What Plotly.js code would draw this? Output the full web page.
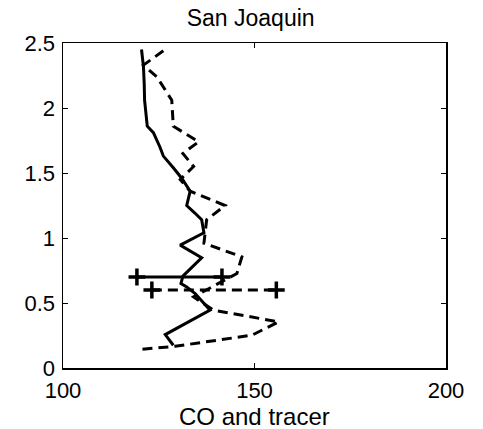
<!DOCTYPE html>
<html>
<head>
<meta charset="utf-8">
<script src="https://cdn.plot.ly/plotly-3.0.1.min.js"></script>
<style>html,body{margin:0;padding:0;background:#fff;}#chart{width:483px;height:429px;}</style>
</head>
<body>
<div id="chart"></div>
<script>
// CO profile (solid)
const solidX = [120.5, 121.0, 121.2, 121.3, 122.0, 123.6, 125.3, 126.2, 128.8, 131.0, 133.2, 132.3, 134.5, 136.2, 136.8, 130.6, 136.2, 133.0, 131.3, 130.8, 132.3, 134.5, 138.4, 126.7, 128.8];
const solidY = [2.45, 2.32, 2.19, 2.06, 1.86, 1.81, 1.70, 1.63, 1.54, 1.46, 1.36, 1.25, 1.19, 1.14, 1.04, 0.945, 0.848, 0.753, 0.707, 0.65, 0.624, 0.573, 0.445, 0.257, 0.175];
// tracer profile (dashed)
const dashX = [126.2, 121.0, 124.5, 128.4, 128.8, 135.4, 131.3, 134.1, 130.6, 133.2, 142.3, 137.5, 136.8, 146.7, 145.4, 138.9, 134.1, 139.3, 156.3, 149.3, 137.5, 129.3, 120.6];
const dashY = [2.44, 2.33, 2.24, 2.06, 1.86, 1.74, 1.65, 1.55, 1.45, 1.36, 1.25, 1.14, 0.96, 0.855, 0.727, 0.624, 0.547, 0.445, 0.355, 0.252, 0.2, 0.167, 0.144];
// horizontal range bars
const solidErrX = [119.3, 141.5];
const solidErrY = [0.7, 0.7];
const dashErrX = [123.2, 155.7];
const dashErrY = [0.6, 0.6];
const xTicks = [100, 150, 200];
const yTicks = [0, 0.5, 1, 1.5, 2, 2.5];
const titleText = 'San Joaquin';
const xLabel = 'CO and tracer';

const FONT = 'Liberation Sans, Arial, sans-serif';
const LW = 3;
const DASH = '10px,6px';
const traces = [
  {x: solidX, y: solidY, mode: 'lines', line: {color: '#000', width: LW}, hoverinfo: 'skip'},
  {x: dashX, y: dashY, mode: 'lines', line: {color: '#000', width: LW, dash: DASH}, hoverinfo: 'skip'},
  {x: solidErrX, y: solidErrY, mode: 'lines+markers', line: {color: '#000', width: LW},
   marker: {symbol: 'cross-thin-open', size: 12, line: {color: '#000', width: 3.5}}, hoverinfo: 'skip'},
  {x: dashErrX, y: dashErrY, mode: 'lines+markers', line: {color: '#000', width: LW, dash: DASH},
   marker: {symbol: 'cross-thin-open', size: 12, line: {color: '#000', width: 3.5}}, hoverinfo: 'skip'}
];
const layout = {
  width: 483, height: 429,
  margin: {l: 63, r: 37, t: 43, b: 61},
  paper_bgcolor: '#fff', plot_bgcolor: '#fff',
  showlegend: false,
  font: {family: FONT, color: '#000', size: 22},
  title: {text: titleText, font: {family: FONT, size: 23, color: '#000'}, x: 0.519, xanchor: 'center', y: 0.957, yanchor: 'middle'},
  xaxis: {
    range: [100, 200], tickvals: xTicks, ticktext: xTicks.map(String),
    showgrid: false, zeroline: false, showline: true, linecolor: '#000', linewidth: 1.5, mirror: 'ticks',
    ticks: 'inside', ticklen: 5, tickwidth: 1, tickcolor: '#000', ticklabelstandoff: 2,
    tickfont: {family: FONT, size: 22, color: '#000'}
  },
  yaxis: {
    range: [0, 2.5], tickvals: yTicks, ticktext: yTicks.map(String),
    showgrid: false, zeroline: false, showline: true, linecolor: '#000', linewidth: 1.5, mirror: 'ticks',
    ticks: 'inside', ticklen: 5, tickwidth: 1, tickcolor: '#000', ticklabelstandoff: 2,
    tickfont: {family: FONT, size: 22, color: '#000'}
  },
  annotations: [
    {text: xLabel, xref: 'paper', yref: 'paper', x: 0.5, y: -0.1, xanchor: 'center', yanchor: 'top',
     showarrow: false, font: {family: FONT, size: 24, color: '#000'}}
  ]
};
Plotly.newPlot('chart', traces, layout, {staticPlot: true, displayModeBar: false});
</script>
</body>
</html>
